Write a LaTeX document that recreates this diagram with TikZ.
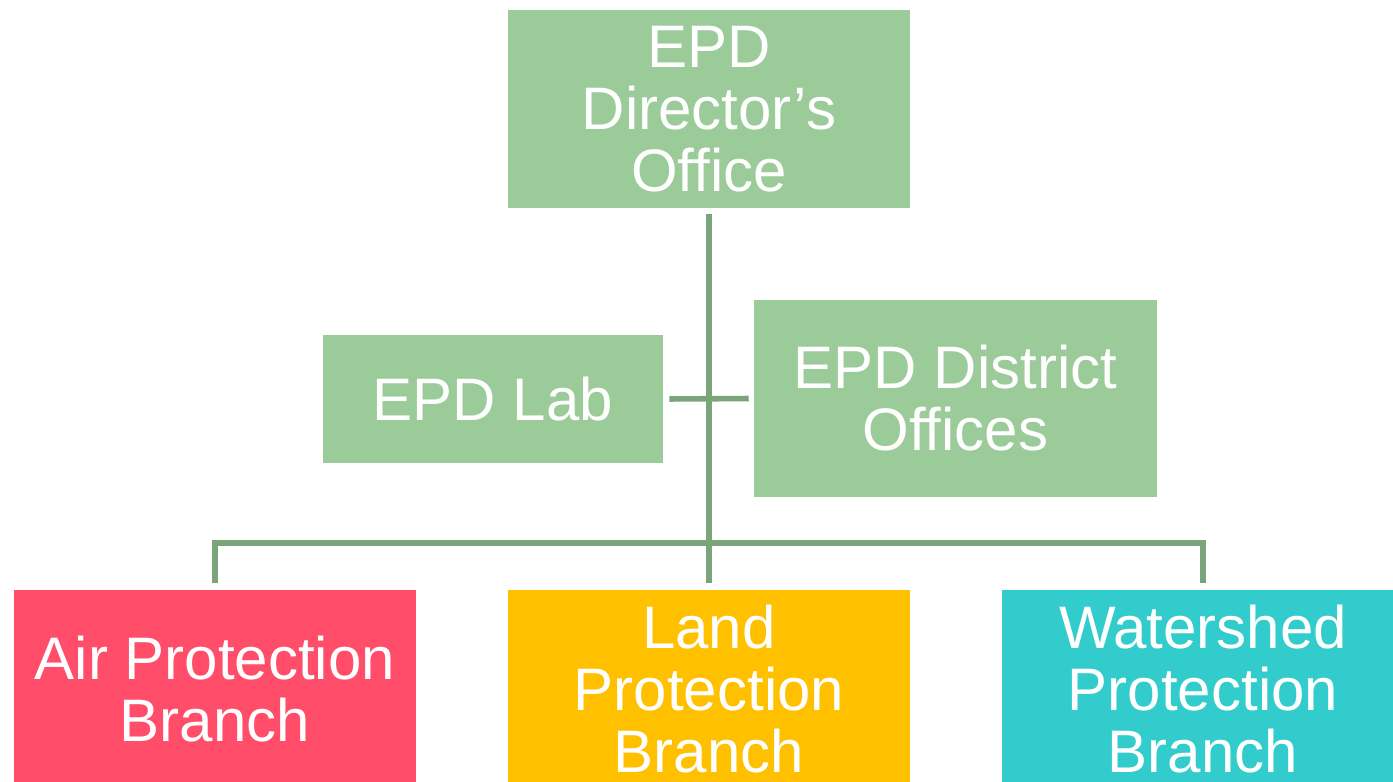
\documentclass[tikz,border=0pt]{standalone}
\usepackage{fontspec}
\setmainfont{Liberation Sans}
\usepackage{tikz}
\usetikzlibrary{
  positioning, % for relative positioning
}
\definecolor{unitgreen}{HTML}{9CCB9A}
\definecolor{linkgreen}{HTML}{7AA57A}
\definecolor{airred}{HTML}{FF4D6A}
\definecolor{landyellow}{HTML}{FFC000}
\definecolor{waterteal}{HTML}{33CCCC}
\tikzset{
  unit/.style={ % style for each office box
    rectangle, % plain filled rectangle, no border
    text=white, % white lettering
    inner sep=0pt, % no padding, size comes from minimum width/height
    align=center, % centre the broken lines
    font=\fontsize{45}{46.5}\selectfont, % large sans text
  },
  office/.style={ % green boxes of the director's level
    unit,
    fill=unitgreen,
  },
  branch/.style={ % coloured boxes of the branches
    unit,
    minimum width=301.5pt,
    minimum height=148.5pt,
  },
  conn/.style={ % style for the connections
    draw=linkgreen,
    line width=4.2pt,
  },
}
\begin{document}
\begin{tikzpicture}[x=0.75pt, y=-0.75pt]
	\clip (0,0) rectangle (1393,782);
	
	\node (dir) [office, minimum width=301.5pt, minimum height=148.5pt] at (709,109) {EPD\\Director’s\\Office};
	
	\node (lab) [office, minimum width=255pt, minimum height=96pt] at (493,399) {EPD Lab};
	
	\node (district) [office, minimum width=302.25pt, minimum height=147.75pt] at (955.5,398.5) {EPD District\\Offices};
	
	\node (air) [branch, fill=airred] at (215,689) {Air Protection\\Branch};
	
	\node (land) [branch, fill=landyellow] at (709,689) {Land\\Protection\\Branch};
	
	\node (water) [branch, fill=waterteal] at (1203,689) {Watershed\\Protection\\Branch};
	
	\coordinate (hub) at (709,543);
	
	\draw[conn, shorten <=4.5pt, shorten >=5.25pt] (dir.south) -- (land.north);
	\draw[conn, shorten <=4.5pt, shorten >=3.75pt] (lab.east) -- (district.west);
	\draw[conn, shorten <=5.25pt, shorten >=5.25pt] (air.north) |- (hub) -| (water.north);
\end{tikzpicture}
\end{document}
